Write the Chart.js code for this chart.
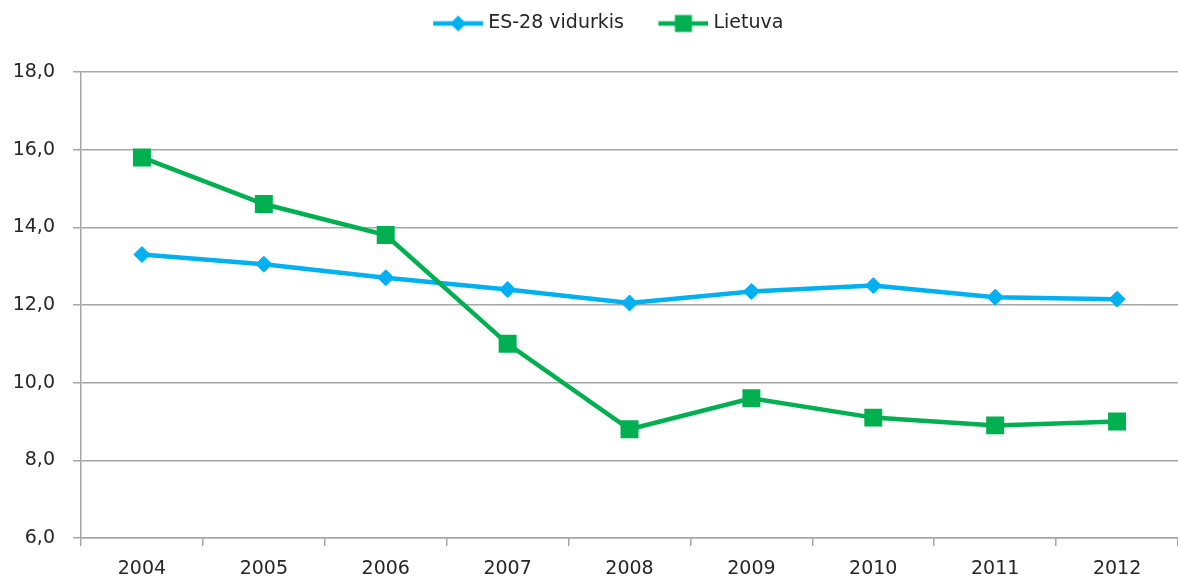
<!DOCTYPE html>
<html>
<head>
<meta charset="utf-8">
<script src="https://cdn.jsdelivr.net/npm/chart.js@4/dist/chart.umd.min.js"></script>
<style>
  html, body { margin: 0; padding: 0; background: #fff; overflow: hidden; }
  #wrap { width: 1178px; height: 579px; position: relative; }
  canvas { display: block; }
</style>
</head>
<body>
<div id="wrap"><canvas id="chart"></canvas></div>
<script>
// === Data ===
const years = ['2004', '2005', '2006', '2007', '2008', '2009', '2010', '2011', '2012'];
const esAverage = [13.3, 13.05, 12.7, 12.4, 12.05, 12.35, 12.5, 12.2, 12.15];
const lithuania = [15.8, 14.6, 13.8, 11.0, 8.8, 9.6, 9.1, 8.9, 9.0];
const seriesNames = ['ES-28 vidurkis', 'Lietuva'];

const BLUE = '#00b0f0';
const GREEN = '#00b050';
const GRID = '#a6a6a6';
const TEXT = '#262626';
const FONT = "'DejaVu Sans', Verdana, sans-serif";

// === Helpers ===
// legend swatch: line with marker, drawn into a small canvas
function legendSwatch(color, style) {
    const c = document.createElement('canvas');
    c.width = 75;
    c.height = 20;
    const g = c.getContext('2d');
    g.strokeStyle = color;
    g.lineWidth = 4.5;
    g.beginPath();
    g.moveTo(25, 10);
    g.lineTo(75, 10);
    g.stroke();
    g.fillStyle = color;
    g.beginPath();
    if (style === 'diamond') {
        g.moveTo(50, 2); g.lineTo(58, 10); g.lineTo(50, 18); g.lineTo(42, 10);
    } else {
        g.rect(41.5, 1.5, 17, 17);
    }
    g.closePath();
    g.fill();
    return c;
}

const swatches = [legendSwatch(BLUE, 'diamond'), legendSwatch(GREEN, 'square')];

// push chart area down to where the reference has it
const legendSpacer = {
    id: 'legendSpacer',
    beforeLayout(chart) {
        const lg = chart.legend;
        if (lg && !lg._spaced) {
            const fit = lg.fit;
            lg.fit = function () { fit.call(this); this.height = 72; };
            lg._spaced = true;
        }
    }
};

// === Chart ===
const ctx = document.getElementById('chart').getContext('2d');
new Chart(ctx, {
    type: 'line',
    data: {
        labels: years,
        datasets: [
            {
                label: seriesNames[0],
                data: esAverage,
                borderColor: BLUE,
                backgroundColor: BLUE,
                borderWidth: 4.5,
                tension: 0,
                pointStyle: 'rectRot',
                pointRadius: 8,
                pointBorderWidth: 1,
                pointBackgroundColor: BLUE,
                pointBorderColor: BLUE,
                fill: false,
                order: 1
            },
            {
                label: seriesNames[1],
                data: lithuania,
                borderColor: GREEN,
                backgroundColor: GREEN,
                borderWidth: 4.5,
                tension: 0,
                pointStyle: 'rect',
                pointRadius: 12.7,
                pointBorderWidth: 0,
                pointBackgroundColor: GREEN,
                pointBorderColor: GREEN,
                fill: false,
                order: 0
            }
        ]
    },
    options: {
        responsive: true,
        maintainAspectRatio: false,
        animation: false,
        layout: { autoPadding: false, padding: { left: 14, right: -4, top: 0, bottom: 0 } },
        scales: {
            x: {
                offset: true,
                grid: {
                    offset: true,
                    drawOnChartArea: false,
                    drawTicks: true,
                    tickLength: 8,
                    color: GRID,
                    lineWidth: 1.5
                },
                border: { display: true, color: GRID, width: 1.5 },
                ticks: { color: TEXT, font: { family: FONT, size: 19 }, padding: 12, maxRotation: 0 },
                afterFit(scale) { scale.height = 41; }
            },
            y: {
                min: 6,
                max: 18,
                grid: { color: GRID, lineWidth: 1.5, tickLength: 8 },
                border: { display: true, color: GRID, width: 1.5 },
                ticks: {
                    stepSize: 2,
                    color: TEXT,
                    padding: 18,
                    font: { family: FONT, size: 19 },
                    callback: v => v.toFixed(1).replace('.', ',')
                },
                afterFit(scale) { scale.width = 67; }
            }
        },
        plugins: {
            legend: {
                position: 'top',
                labels: {
                    color: TEXT,
                    font: { family: FONT, size: 19 },
                    usePointStyle: true,
                    pointStyleWidth: 66,
                    padding: 14,
                    generateLabels: chart => seriesNames.map((name, i) => ({
                        text: name,
                        fontColor: TEXT,
                        pointStyle: swatches[i],
                        datasetIndex: i,
                        lineWidth: 0,
                        strokeStyle: 'transparent',
                        fillStyle: 'transparent'
                    }))
                }
            },
            tooltip: { enabled: false }
        }
    },
    plugins: [legendSpacer]
});
</script>
</body>
</html>
